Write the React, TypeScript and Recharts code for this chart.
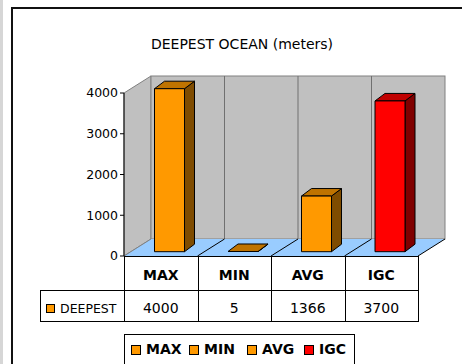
import React from "react";
import { BarChart, Bar, XAxis, YAxis, Customized } from "recharts";

const chartTitle = "DEEPEST OCEAN (meters)";
const seriesName = "DEEPEST";
const categories = ["MAX", "MIN", "AVG", "IGC"];
const depths = [4000, 5, 1366, 3700];
const yTicks = [0, 1000, 2000, 3000, 4000];
const frontColors = ["#FF9900", "#FF9900", "#FF9900", "#FF0000"];
const topColors = ["#BF7300", "#BF7300", "#BF7300", "#C00000"];
const sideColors = ["#7F4C00", "#7F4C00", "#7F4C00", "#800000"];

const data = categories.map((name, i) => ({
  name,
  value: depths[i],
  front: frontColors[i],
  top: topColors[i],
  side: sideColors[i],
}));

// layout (pixels)
const W = 462;
const H = 364;
const PLOT_LEFT = 124;
const PLOT_RIGHT = 418;
const PLOT_TOP = 93;
const PLOT_BOTTOM = 256;
const Y_AXIS_W = 60;
const X_AXIS_H = 30;
const WALL_DX = 27;
const WALL_DY = 17;
const BAR_DX = 10;
const BAR_DY = 7.5;
const BAR_SHIFT_X = 8.5;
const BAR_SHIFT_Y = 4.3;
const ROW1_Y = 290;
const ROW2_Y = 321;
const TABLE_LEFT = 40;
const LEGEND_X = [131, 189, 247, 304];

const FONT = "'DejaVu Sans', Verdana, sans-serif";

function Walls() {
  const bw = PLOT_RIGHT - PLOT_LEFT;
  const bx = PLOT_LEFT + WALL_DX;
  const by = PLOT_TOP - WALL_DY;
  const bb = PLOT_BOTTOM - WALL_DY;
  const step = bw / categories.length;
  return (
    <g>
      <rect x={0} y={0} width={3} height={H} fill="#D6D6D6" />
      <rect x={12} y={8} width={470} height={380} fill="none" stroke="#111" strokeWidth={2} />
      <text x={242} y={49} textAnchor="middle" fontFamily={FONT} fontSize={14} fill="#000">
        {chartTitle}
      </text>
      <polygon
        points={`${PLOT_LEFT},${PLOT_TOP} ${bx},${by} ${bx},${bb} ${PLOT_LEFT},${PLOT_BOTTOM}`}
        fill="#C0C0C0"
        stroke="#808080"
      />
      <rect x={bx} y={by} width={bw} height={bb - by} fill="#C0C0C0" stroke="#808080" />
      {categories.slice(1).map((c, i) => (
        <line key={c} x1={bx + step * (i + 1)} x2={bx + step * (i + 1)} y1={by} y2={bb} stroke="#707070" />
      ))}
      <polygon
        points={`${PLOT_LEFT},${PLOT_BOTTOM} ${bx},${bb} ${bx + bw},${bb} ${PLOT_RIGHT},${PLOT_BOTTOM}`}
        fill="#99CCFF"
        stroke="none"
      />
      <line x1={PLOT_LEFT} y1={PLOT_BOTTOM} x2={bx} y2={bb} stroke="#808080" />
      {categories.map((c, i) => (
        <line
          key={c}
          x1={PLOT_LEFT + step * (i + 1)}
          y1={PLOT_BOTTOM}
          x2={bx + step * (i + 1)}
          y2={bb}
          stroke="#000"
        />
      ))}
    </g>
  );
}

function Box3D(props: any) {
  const { x, y, width, height, payload } = props;
  const h = Math.max(height || 0, 0);
  const fx = x + BAR_SHIFT_X;
  const fy = y - BAR_SHIFT_Y;
  const r = fx + width;
  return (
    <g stroke="#000" strokeWidth={1} strokeLinejoin="round">
      <polygon
        points={`${r},${fy} ${r + BAR_DX},${fy - BAR_DY} ${r + BAR_DX},${fy + h - BAR_DY} ${r},${fy + h}`}
        fill={payload.side}
      />
      <polygon
        points={`${fx},${fy} ${fx + BAR_DX},${fy - BAR_DY} ${r + BAR_DX},${fy - BAR_DY} ${r},${fy}`}
        fill={payload.top}
      />
      {h > 0.5 && <rect x={fx} y={fy} width={width} height={h} fill={payload.front} />}
    </g>
  );
}

function CategoryTick(props: any) {
  const { x, y, payload } = props;
  return (
    <text x={x} y={y} dy={21.5} textAnchor="middle" fontFamily={FONT} fontWeight="bold" fontSize={14} fill="#000">
      {payload.value}
    </text>
  );
}

function DataTable() {
  const step = (PLOT_RIGHT - PLOT_LEFT) / categories.length;
  return (
    <g>
      <line x1={PLOT_LEFT} x2={PLOT_RIGHT} y1={PLOT_BOTTOM + 0.5} y2={PLOT_BOTTOM + 0.5} stroke="#000" />
      <line x1={TABLE_LEFT} x2={PLOT_RIGHT} y1={ROW1_Y + 0.5} y2={ROW1_Y + 0.5} stroke="#000" />
      <line x1={TABLE_LEFT} x2={PLOT_RIGHT} y1={ROW2_Y + 0.5} y2={ROW2_Y + 0.5} stroke="#000" />
      <line x1={TABLE_LEFT + 0.5} x2={TABLE_LEFT + 0.5} y1={ROW1_Y} y2={ROW2_Y + 1} stroke="#000" />
      {[...categories, ""].map((c, i) => {
        const lx = Math.round(PLOT_LEFT + step * i) + 0.5;
        return <line key={i} x1={lx} x2={lx} y1={PLOT_BOTTOM} y2={ROW2_Y + 1} stroke="#000" />;
      })}
      {depths.map((v, i) => (
        <text
          key={i}
          x={PLOT_LEFT + step * (i + 0.5)}
          y={313}
          textAnchor="middle"
          fontFamily={FONT}
          fontSize={14}
          fill="#000"
        >
          {v}
        </text>
      ))}
      <rect x={46.5} y={304.5} width={8} height={8} fill={frontColors[0]} stroke="#000" />
      <text x={60} y={313} fontFamily={FONT} fontSize={12.5} fill="#000">
        {seriesName}
      </text>
      <rect x={124.5} y={334.5} width={230} height={40} fill="#fff" stroke="#000" />
      {categories.map((c, i) => (
        <g key={c}>
          <rect x={LEGEND_X[i] + 0.5} y={345.5} width={9} height={9} fill={frontColors[i]} stroke="#000" />
          <text x={LEGEND_X[i] + 15} y={354} fontFamily={FONT} fontWeight="bold" fontSize={14} fill="#000">
            {c}
          </text>
        </g>
      ))}
    </g>
  );
}

export default function App() {
  return (
    <div style={{ position: "absolute", left: 0, top: 0, width: W, height: H, background: "#fff" }}>
      <BarChart
        width={W}
        height={H}
        data={data}
        margin={{
          top: PLOT_TOP,
          right: W - PLOT_RIGHT,
          left: PLOT_LEFT - Y_AXIS_W,
          bottom: H - PLOT_BOTTOM - X_AXIS_H,
        }}
      >
        <Customized component={Walls} />
        <XAxis
          dataKey="name"
          height={X_AXIS_H}
          axisLine={false}
          tickLine={false}
          tickSize={0}
          tick={<CategoryTick />}
          interval={0}
        />
        <YAxis
          width={Y_AXIS_W}
          domain={[0, 4000]}
          ticks={yTicks}
          tickSize={4}
          tickMargin={2}
          axisLine={{ stroke: "#000" }}
          tickLine={{ stroke: "#000" }}
          tick={{ fontFamily: FONT, fontSize: 12.5, fill: "#000" }}
        />
        <Bar dataKey="value" barSize={30} shape={<Box3D />} isAnimationActive={false} />
        <Customized component={DataTable} />
      </BarChart>
    </div>
  );
}
